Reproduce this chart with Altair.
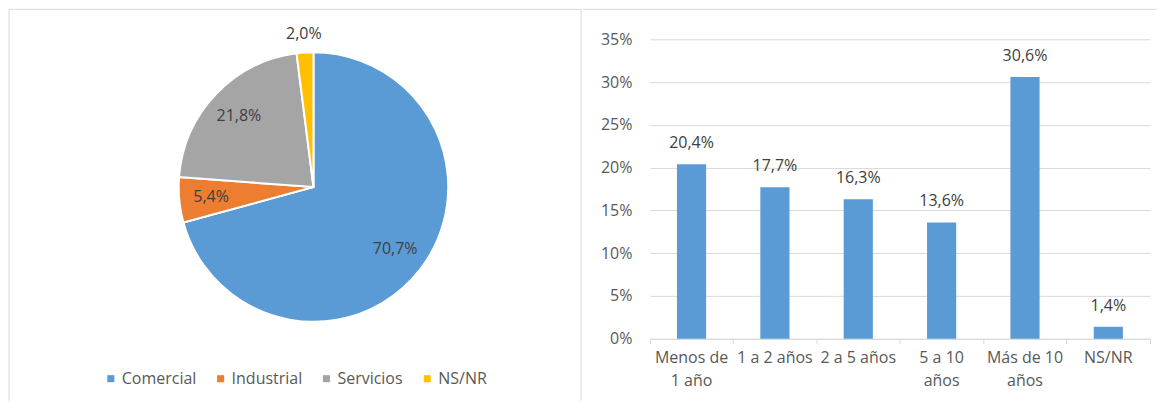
import altair as alt
import pandas as pd

# ---- data ----
sectores = ["Comercial", "Industrial", "Servicios", "NS/NR"]
sector_pct = [70.7, 5.4, 21.8, 2.0]
sector_colors = ["#5B9BD5", "#ED7D31", "#A5A5A5", "#FFC000"]

antiguedad = ["Menos de\n1 año", "1 a 2 años", "2 a 5 años", "5 a 10\naños", "Más de 10\naños", "NS/NR"]
antig_pct = [20.4, 17.7, 16.3, 13.6, 30.6, 1.4]
y_ticks = [0, 5, 10, 15, 20, 25, 30, 35]

FONT = "Open Sans"
TXT = "#595959"
DARK = "#404040"
LINE = "#D9D9D9"
FS = 16

pie_df = pd.DataFrame({"sector": sectores, "pct": sector_pct, "orden": list(range(len(sectores)))})
bar_df = pd.DataFrame({"cat": antiguedad, "pct": antig_pct})

LBL = "replace(format(datum.pct, '.1f'), '.', ',') + '%'"


def rule(x, x2, y, y2):
    return alt.Chart(alt.Data(values=[{}])).mark_rule(color=LINE, strokeWidth=1).encode(
        x=alt.value(x), x2=alt.value(x2), y=alt.value(y), y2=alt.value(y2)
    )


# ---- left: pie ----
W1, H1 = 573, 300
TOP = -30
BOT = 362
CX, CY, R = 305, 148, 135

base = alt.Chart(pie_df).encode(
    theta=alt.Theta("pct:Q", stack=True),
    order=alt.Order("orden:Q"),
    x=alt.value(CX),
    y=alt.value(CY),
)
arcs = base.mark_arc(outerRadius=R, stroke="white", strokeWidth=2).encode(
    color=alt.Color(
        "sector:N",
        sort=sectores,
        scale=alt.Scale(domain=sectores, range=sector_colors),
        legend=alt.Legend(
            orient="none", legendX=94, legendY=332, direction="horizontal", title=None,
            symbolType="square", symbolSize=50, symbolStrokeWidth=0,
            labelFont=FONT, labelFontSize=FS, labelColor=TXT,
            columnPadding=16, labelOffset=3,
        ),
    )
)
inner_labels = base.transform_calculate(lbl=LBL).mark_text(
    font=FONT, fontSize=FS, color=DARK, baseline="middle", align="center", radius=103
).encode(
    text=alt.condition(alt.datum.pct >= 3, alt.Text("lbl:N"), alt.value("")),
)
outer_labels = base.transform_calculate(lbl=LBL).mark_text(
    font=FONT, fontSize=FS, color=DARK, baseline="middle", align="center", radius=154
).encode(
    text=alt.condition(alt.datum.pct < 3, alt.Text("lbl:N"), alt.value("")),
)

left = alt.layer(
    rule(0, W1, TOP, TOP), rule(0, 0, TOP, BOT), rule(W1, W1, TOP, BOT),
    arcs, inner_labels, outer_labels
).properties(width=W1, height=H1)

# ---- right: bars ----
W2, H2 = 501, 300

xenc = alt.X(
    "cat:N", sort=antiguedad, title=None,
    scale=alt.Scale(paddingInner=0, paddingOuter=0),
    axis=alt.Axis(
        labelAngle=0, labelFont=FONT, labelFontSize=FS, labelColor=TXT,
        labelExpr="split(datum.label, '\\n')", labelLineHeight=23, labelPadding=6,
        domainColor=LINE, tickColor=LINE, tickSize=5, bandPosition=1, tickExtra=True,
        grid=False,
    ),
)
yenc = alt.Y(
    "pct:Q", title=None,
    scale=alt.Scale(domain=[0, 35]),
    axis=alt.Axis(
        values=y_ticks, labelExpr="datum.value + '%'", labelFont=FONT, labelFontSize=FS,
        labelColor=TXT, domain=False, ticks=False, grid=True, gridColor=LINE, labelPadding=18,
    ),
)

bars = alt.Chart(bar_df).mark_bar(color="#5B9BD5", width=alt.RelativeBandSize(0.35)).encode(x=xenc, y=yenc)
bar_labels = alt.Chart(bar_df).transform_calculate(lbl=LBL).mark_text(
    font=FONT, fontSize=FS, color=DARK, dy=-21, baseline="middle"
).encode(x=alt.X("cat:N", sort=antiguedad), y=alt.Y("pct:Q"), text="lbl:N")

right = alt.layer(rule(-67, W2 + 7, TOP, TOP), bars, bar_labels).properties(width=W2, height=H2)

chart = alt.hconcat(left, right, spacing=0).properties(padding=0).configure_view(stroke="transparent")

chart.save("out.html", embed_options={"renderer": "svg", "actions": False})
